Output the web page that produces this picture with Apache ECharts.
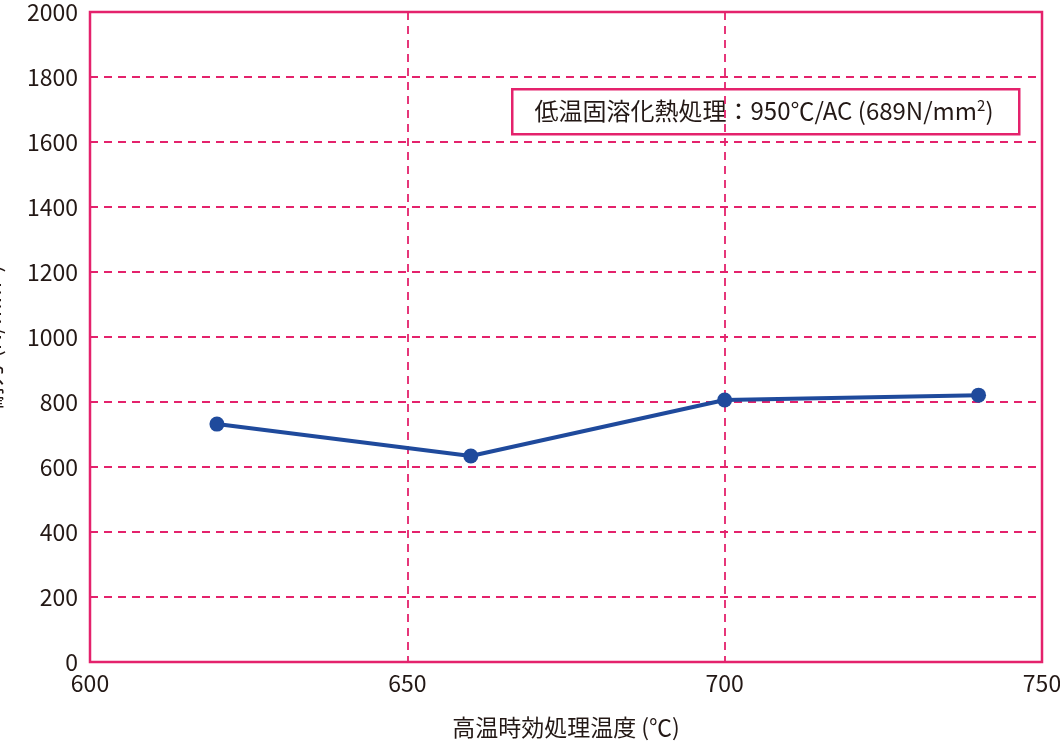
<!DOCTYPE html>
<html><head><meta charset="utf-8">
<script src="https://cdn.jsdelivr.net/npm/echarts@6/dist/echarts.min.js"></script>
<style>html,body{margin:0;padding:0;background:#fff}#c{width:1060px;height:744px}</style>
</head><body><div id="c"></div>
<script>
const temps = [620, 660, 700, 740];
const strength = [732, 634, 806, 821];
const xTicks = [600, 650, 700, 750];
const yTicks = [0, 200, 400, 600, 800, 1000, 1200, 1400, 1600, 1800, 2000];
const xName = '高温時効処理温度 (℃)';
const yName = '耐力 (N/mm²)';
const noteMain = '低温固溶化熱処理：950℃/AC (689N/mm';
const noteSup = '2';
const noteEnd = ')';

const pink = '#e4226c';
const ink = '#231815';
const font = '"Noto Sans CJK JP", "Noto Sans", sans-serif';
const chart = echarts.init(document.getElementById('c'));
chart.setOption({
  animation: false,
  grid: {left: 90, right: 18, top: 12, bottom: 82, containLabel: false, outerBoundsMode: 'none',
         show: true, borderColor: pink, borderWidth: 2.5},
  xAxis: {
    type: 'value', min: xTicks[0], max: xTicks[xTicks.length-1], interval: 50,
    name: xName, nameLocation: 'middle', nameGap: 54,
    nameTextStyle: {fontFamily: font, fontSize: 23, color: ink},
    axisLine: {show: false}, axisTick: {show: false},
    axisLabel: {fontFamily: font, fontSize: 23, color: ink, margin: 10, formatter: v => String(v)},
    splitLine: {show: true, lineStyle: {color: pink, type: [8, 6], width: 1.8}}
  },
  yAxis: {
    type: 'value', min: yTicks[0], max: yTicks[yTicks.length-1], interval: 200,
    name: yName, nameLocation: 'middle', nameGap: 86,
    nameTextStyle: {fontFamily: font, fontSize: 23, color: ink},
    axisLine: {show: false}, axisTick: {show: false},
    axisLabel: {fontFamily: font, fontSize: 23, color: ink, margin: 12, formatter: v => String(v)},
    splitLine: {show: true, lineStyle: {color: pink, type: [8, 6], width: 1.8}}
  },
  series: [{
    type: 'line', data: temps.map((t, i) => [t, strength[i]]),
    lineStyle: {color: '#1f4a9c', width: 4},
    itemStyle: {color: '#1f4a9c'},
    symbol: 'circle', symbolSize: 15
  }],
  graphic: [{
    type: 'rect', left: 511, top: 88,
    shape: {width: 507, height: 45},
    style: {fill: '#fff', stroke: pink, lineWidth: 2.5}
  }, {
    type: 'text', x: 764, y: 111,
    style: {
      align: 'center', verticalAlign: 'middle',
      rich: {
        m: {fontFamily: font, fontSize: 24, fill: ink},
        s: {fontFamily: font, fontSize: 15, fill: ink, verticalAlign: 'top', padding: [0, 0, 12, 0]}
      },
      text: '{m|' + noteMain + '}{s|' + noteSup + '}{m|' + noteEnd + '}'
    }
  }]
});
</script></body></html>
